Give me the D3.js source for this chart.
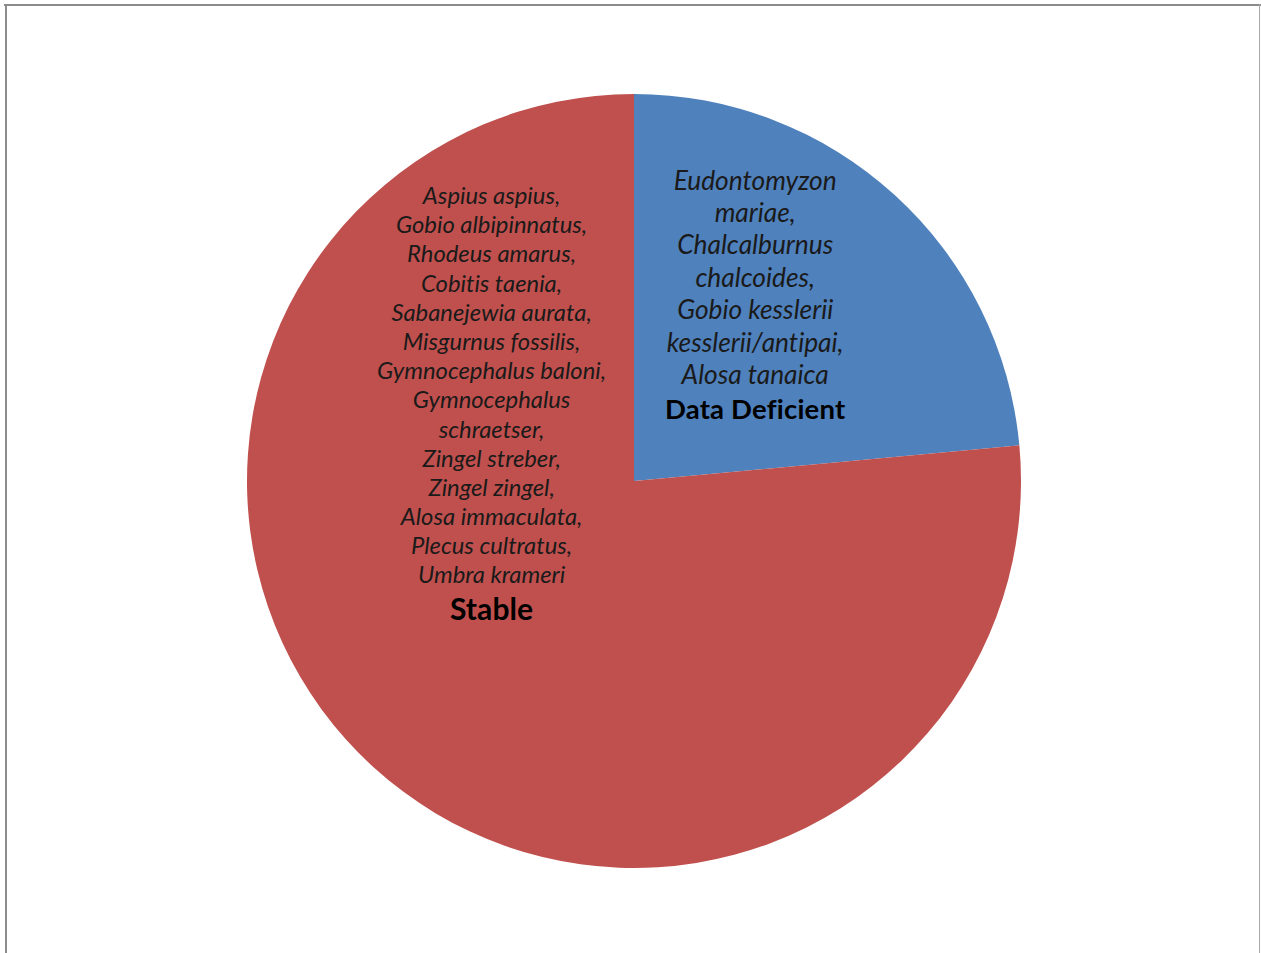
<!DOCTYPE html>
<html>
<head>
<meta charset="utf-8">
<script src="https://cdn.jsdelivr.net/npm/d3@7"></script>
<style>
  html, body { margin: 0; padding: 0; background: #fff; }
  svg { display: block; }
  text { font-variant-ligatures: none; font-feature-settings: "liga" 0, "clig" 0; }
</style>
</head>
<body>
<script>
// ---- data ----
const categories = ["Data Deficient", "Stable"];
const values = [4, 13];
const colors = ["#4F81BD", "#C0504D"];
const speciesDataDeficient = [
  "Eudontomyzon", "mariae,", "Chalcalburnus", "chalcoides,",
  "Gobio kesslerii", "kesslerii/antipai,", "Alosa tanaica"
];
const speciesStable = [
  "Aspius aspius,", "Gobio albipinnatus,", "Rhodeus amarus,", "Cobitis taenia,",
  "Sabanejewia aurata,", "Misgurnus fossilis,", "Gymnocephalus baloni,",
  "Gymnocephalus", "schraetser,", "Zingel streber,", "Zingel zingel,",
  "Alosa immaculata,", "Plecus cultratus,", "Umbra krameri"
];
const speciesLists = [speciesDataDeficient, speciesStable];

// ---- layout ----
const W = 1261, H = 953;
const cx = 634, cy = 481, R = 387;

const svg = d3.select("body").append("svg").attr("width", W).attr("height", H);
svg.append("rect").attr("width", W).attr("height", H).attr("fill", "#fff");

// chart frame
svg.append("line").attr("x1", 4).attr("x2", 1261).attr("y1", 5).attr("y2", 5)
  .attr("stroke", "#8c8c8c").attr("stroke-width", 2);
svg.append("line").attr("x1", 6).attr("x2", 6).attr("y1", 4).attr("y2", 953)
  .attr("stroke", "#8c8c8c").attr("stroke-width", 2);
svg.append("line").attr("x1", 1259.5).attr("x2", 1259.5).attr("y1", 4).attr("y2", 953)
  .attr("stroke", "#a8a8a8").attr("stroke-width", 1);

const pie = d3.pie().value(d => d).sort(null);
const arcs = pie(values);
const arc = d3.arc().innerRadius(0).outerRadius(R);

const g = svg.append("g").attr("transform", `translate(${cx},${cy})`);
g.selectAll("path.slice").data(arcs).join("path")
  .attr("class", "slice")
  .attr("d", arc)
  .attr("fill", (d, i) => colors[i]);

// label placement (polar offsets from pie centre)
const labelCfg = [
  { angle: 33, rFrac: 0.575, size: 26.3, line: 32.4, boldSize: 27.5, boldGap: 37, spacing: 0.2 },
  { angle: -61.2, rFrac: 0.42, size: 23.8, line: 29.2, boldSize: 30, boldGap: 38, spacing: 0.1 }
];
const font = "Lato, 'Open Sans', sans-serif";

labelCfg.forEach((c, i) => {
  const a = c.angle * Math.PI / 180;
  const lx = Math.sin(a) * R * c.rFrac;
  const ly = -Math.cos(a) * R * c.rFrac;
  const lines = speciesLists[i];
  const totalH = lines.length * c.line + c.boldGap;
  const top = ly - totalH / 2;
  const t = g.append("text")
    .attr("text-anchor", "middle")
    .attr("font-family", font)
    .attr("fill", "#000");
  lines.forEach((s, k) => {
    t.append("tspan")
      .attr("x", lx)
      .attr("y", top + k * c.line + c.line * 0.5 + 1)
      .attr("dominant-baseline", "central")
      .attr("font-style", "italic")
      .attr("font-size", c.size)
      .attr("fill", "#1a1a1a")
      .text(s);
  });
  g.append("text")
    .attr("x", lx)
    .attr("y", top + lines.length * c.line + c.boldGap * 0.5 + 1)
    .attr("dominant-baseline", "central")
    .attr("text-anchor", "middle")
    .attr("font-family", font)
    .attr("font-weight", "bold")
    .attr("font-size", c.boldSize)
    .attr("letter-spacing", c.spacing)
    .attr("fill", "#000")
    .text(categories[i]);
});
</script>
</body>
</html>
